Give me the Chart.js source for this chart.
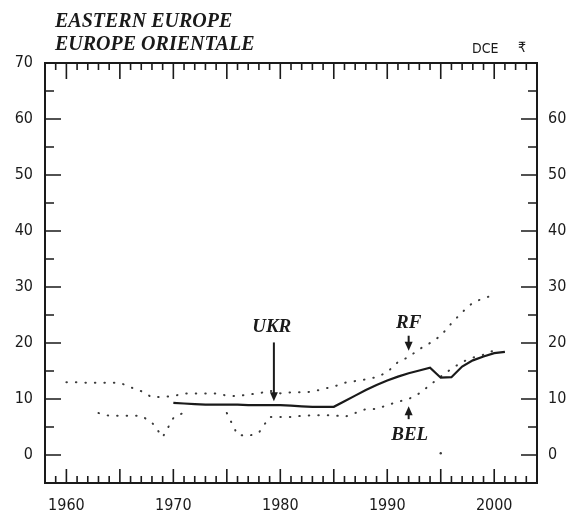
<!DOCTYPE html>
<html>
<head>
<meta charset="utf-8">
<script src="https://cdn.jsdelivr.net/npm/chart.js@4.4.1/dist/chart.umd.min.js"></script>
<style>
  html, body { margin: 0; padding: 0; background: #fff; }
  #chart-div { width: 572px; height: 523px; }
</style>
</head>
<body>
<div id="chart-div"><canvas id="chart-canvas" width="572" height="523"></canvas></div>
<script>
// values (years 1960..2001)
const years = [1960, 1961, 1962, 1963, 1964, 1965, 1966, 1967, 1968, 1969,
  1970, 1971, 1972, 1973, 1974, 1975, 1976, 1977, 1978, 1979,
  1980, 1981, 1982, 1983, 1984, 1985, 1986, 1987, 1988, 1989,
  1990, 1991, 1992, 1993, 1994, 1995, 1996, 1997, 1998, 1999,
  2000, 2001];

const ukrValues = [null, null, null, null, null, null, null, null, null, null,
  9.3, 9.2, 9.1, 9.0, 9.0, 9.0, 9.0, 8.9, 8.9, 8.9,
  8.9, 8.8, 8.7, 8.6, 8.6, 8.6, 9.6, 10.6, 11.6, 12.5,
  13.3, 14.0, 14.6, 15.1, 15.6, 13.8, 13.9, 15.8, 16.9, 17.6,
  18.2, 18.4];

const rfValues = [13.0, 13.0, 12.9, 12.9, 12.9, 12.9, 12.1, 11.4, 10.3, 10.4,
  10.5, 11.0, 11.0, 11.0, 11.0, 10.6, 10.5, 10.8, 11.0, 11.5,
  11.0, 11.2, 11.2, 11.3, 11.8, 12.2, 12.9, 13.2, 13.5, 13.9,
  14.8, 16.6, 17.5, 18.9, 20.0, 21.3, 23.5, 25.5, 27.2, 28.0,
  28.6, null];

const belValues = [null, null, null, 7.5, 7.0, 7.0, 7.0, 7.0, 5.8, 3.2,
  6.6, 7.6, null, null, null, 7.5, 3.6, 3.4, 4.0, 6.8,
  6.8, 6.8, 7.0, 7.1, 7.1, 7.1, 6.8, 7.5, 8.2, 8.2,
  8.9, 9.5, 10.0, 11.0, 12.5, 14.0, 15.4, 16.6, 17.4, 17.9,
  18.7, null];

const otherYears = [1995];
const otherValues = [0.3];

const xTickLabels = [1960, 1970, 1980, 1990, 2000];
const yLeftTicks = [0, 10, 20, 30, 40, 50, 60, 70];
const yRightTicks = [0, 10, 20, 30, 40, 50, 60];

const toPoints = (xs, ys) => xs.map((x, i) => ({ x: x, y: ys[i] }));

const ink = "#1a1a1a";
const tickFont = { family: "'DejaVu Sans Condensed', 'DejaVu Sans', sans-serif", size: 16 };

// frame, inward tick marks, title and the country labels
const decorations = {
  id: "decorations",
  afterDraw(chart) {
    const ctx = chart.ctx;
    const area = chart.chartArea;
    const x = chart.scales.x;
    const y = chart.scales.y;
    ctx.save();
    ctx.strokeStyle = ink;
    ctx.fillStyle = ink;

    ctx.lineWidth = 2;
    ctx.strokeRect(area.left, area.top, area.right - area.left, area.bottom - area.top);

    ctx.lineWidth = 1.6;
    ctx.beginPath();
    for (let yr = 1959; yr <= 2003; yr++) {
      const px = x.getPixelForValue(yr);
      const major = yr % 5 === 0;
      ctx.moveTo(px, area.bottom);
      ctx.lineTo(px, area.bottom - (major ? 14 : 7));
      ctx.moveTo(px, area.top);
      ctx.lineTo(px, area.top + (major ? 16 : 7));
    }
    for (let v = 0; v < 70; v += 5) {
      const py = y.getPixelForValue(v);
      const len = v % 10 === 0 ? 16 : 9;
      ctx.moveTo(area.left, py);
      ctx.lineTo(area.left + len, py);
      ctx.moveTo(area.right, py);
      ctx.lineTo(area.right - len, py);
    }
    ctx.stroke();

    // title
    ctx.font = "bold italic 20px 'Liberation Serif', serif";
    ctx.textAlign = "left";
    ctx.textBaseline = "alphabetic";
    ctx.fillText("EASTERN EUROPE", 55, 27);
    ctx.fillText("EUROPE ORIENTALE", 55, 50);

    ctx.font = "14px 'DejaVu Sans Condensed', 'DejaVu Sans', sans-serif";
    ctx.fillText("DCE", 472, 53);
    ctx.fillText("\u20B9", 518, 52);

    // country labels with arrows
    const label = (text, yr, v) => {
      ctx.font = "bold italic 19px 'Liberation Serif', serif";
      ctx.textAlign = "center";
      ctx.textBaseline = "middle";
      ctx.fillText(text, x.getPixelForValue(yr), y.getPixelForValue(v));
    };
    const arrow = (yr, from, to) => {
      const px = x.getPixelForValue(yr);
      const p0 = y.getPixelForValue(from);
      const p1 = y.getPixelForValue(to);
      const dir = p1 > p0 ? 1 : -1;
      ctx.lineWidth = 2;
      ctx.beginPath();
      ctx.moveTo(px, p0);
      ctx.lineTo(px, p1 - dir * 6);
      ctx.stroke();
      ctx.beginPath();
      ctx.moveTo(px, p1);
      ctx.lineTo(px - 4, p1 - dir * 9);
      ctx.lineTo(px + 4, p1 - dir * 9);
      ctx.closePath();
      ctx.fill();
    };
    label("UKR", 1979.2, 22.8);
    arrow(1979.4, 20.1, 9.6);
    label("RF", 1992.0, 23.6);
    arrow(1992.0, 21.3, 18.6);
    label("BEL", 1992.1, 3.5);
    arrow(1992.0, 6.4, 8.7);

    ctx.restore();
  }
};

const dotted = {
  borderColor: "#3a3a3a",
  borderWidth: 2,
  borderDash: [0.5, 9],
  borderCapStyle: "round",
  pointRadius: 0,
  tension: 0,
  fill: false
};

const chartCanvas = document.getElementById("chart-canvas");

new Chart(chartCanvas, {
  type: "line",
  data: {
    datasets: [
      {
        label: "UKR",
        data: toPoints(years, ukrValues),
        borderColor: ink,
        borderWidth: 2.2,
        pointRadius: 0,
        tension: 0,
        fill: false
      },
      Object.assign({ label: "RF", data: toPoints(years, rfValues) }, dotted),
      Object.assign({ label: "BEL", data: toPoints(years, belValues) }, dotted),
      {
        label: "other",
        data: toPoints(otherYears, otherValues),
        showLine: false,
        pointRadius: 1.2,
        pointBorderWidth: 0,
        pointBackgroundColor: "#3a3a3a"
      }
    ]
  },
  options: {
    responsive: false,
    animation: false,
    layout: { padding: { top: 63, left: 0, right: 0, bottom: 0 } },
    plugins: {
      legend: { display: false },
      tooltip: { enabled: false },
      title: { display: false }
    },
    scales: {
      x: {
        type: "linear",
        min: 1958,
        max: 2004,
        grid: { display: false, drawTicks: false },
        border: { display: false },
        afterFit: (s) => { s.height = 40; },
        afterBuildTicks: (s) => { s.ticks = xTickLabels.map((v) => ({ value: v })); },
        ticks: {
          color: ink,
          font: tickFont,
          padding: 13,
          maxRotation: 0,
          callback: (v) => String(v)
        }
      },
      y: {
        position: "left",
        min: -5,
        max: 70,
        grid: { display: false, drawTicks: false },
        border: { display: false },
        afterFit: (s) => { s.width = 45; },
        afterBuildTicks: (s) => { s.ticks = yLeftTicks.map((v) => ({ value: v })); },
        ticks: { color: ink, font: tickFont, padding: 12 }
      },
      y2: {
        position: "right",
        min: -5,
        max: 70,
        grid: { display: false, drawTicks: false },
        border: { display: false },
        afterFit: (s) => { s.width = 35; },
        afterBuildTicks: (s) => { s.ticks = yRightTicks.map((v) => ({ value: v })); },
        ticks: { color: ink, font: tickFont, padding: 11 }
      }
    }
  },
  plugins: [decorations]
});
</script>
</body>
</html>
